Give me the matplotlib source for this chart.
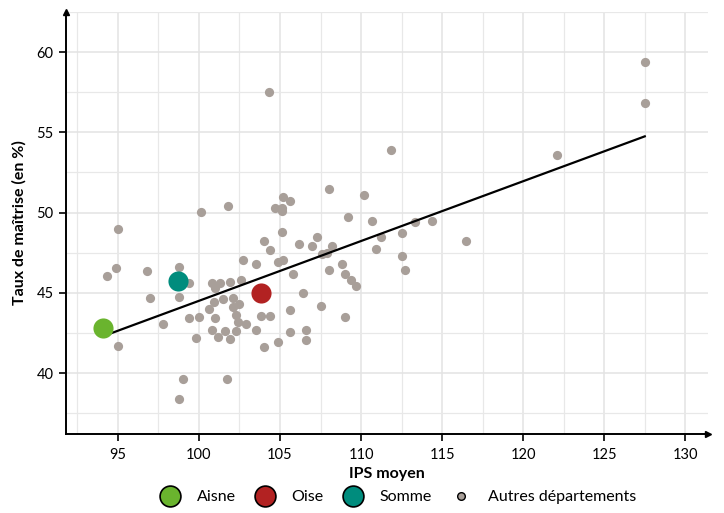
"""
plot.py
-------
Taux de maîtrise vs IPS moyen par département (Aisne, Oise, Somme en couleur).
"""

import matplotlib
matplotlib.use("Agg")
import matplotlib.pyplot as plt
from matplotlib.lines import Line2D


# ── Data ──────────────────────────────────────────────────────────────
# autres départements : IPS moyen / taux de maîtrise
autres_ips = [
    104.3, 127.5, 127.5, 122.1, 111.85, 108.0, 110.2, 101.8, 100.1,
    104.7, 105.1, 105.1, 105.2, 105.6,
    109.2, 110.7, 113.3, 114.4, 116.5, 111.2, 112.5, 112.5, 112.7, 110.9,
    105.1, 104.0, 104.4, 102.7, 103.5, 104.9, 105.2, 105.8, 106.2, 107.0,
    107.3, 108.2, 107.6, 107.9, 108.8, 108.0, 109.0, 109.4, 109.7, 106.4,
    107.5, 105.6, 103.8, 104.4, 109.0, 106.6, 105.6, 106.6, 104.9, 104.0,
    103.5, 102.9, 102.4, 102.3, 102.3, 101.9, 101.6, 101.2, 100.8, 101.0,
    100.6, 102.1, 102.5, 102.1, 101.5, 100.9, 100.8, 101.3, 101.0, 101.9,
    102.6, 100.0, 99.4, 99.8, 99.4, 98.8, 97.8, 97.0, 96.8, 94.9, 94.3,
    95.0, 95.0, 99.0, 98.8, 98.8, 101.7,
]
autres_taux = [
    57.5, 59.4, 56.8, 53.6, 53.9, 51.5, 51.1, 50.4, 50.05,
    50.3, 50.3, 50.1, 51.0, 50.7,
    49.7, 49.5, 49.4, 49.5, 48.2, 48.45, 48.7, 47.3, 46.45, 47.7,
    48.8, 48.25, 47.65, 47.05, 46.8, 46.9, 47.05, 46.2, 48.05, 47.9,
    48.5, 47.9, 47.4, 47.5, 46.8, 46.4, 46.2, 45.8, 45.4, 45.0,
    44.2, 43.9, 43.55, 43.55, 43.5, 42.7, 42.55, 42.05, 41.95, 41.6,
    42.7, 43.05, 43.2, 43.6, 42.6, 42.15, 42.6, 42.25, 42.7, 43.45,
    44.0, 44.1, 44.3, 44.7, 44.6, 44.45, 45.6, 45.6, 45.3, 45.7,
    45.8, 43.5, 43.45, 42.2, 45.6, 44.75, 43.05, 44.7, 46.35, 46.55, 46.05,
    49.0, 41.7, 39.65, 38.4, 46.6, 39.6,
]

# départements mis en avant
dept_noms = ["Aisne", "Oise", "Somme"]
dept_ips = [94.1, 103.8, 98.7]
dept_taux = [42.8, 45.0, 45.75]
dept_couleurs = ["#6AB42E", "#B22222", "#008C7D"]

# droite de régression (extrémités)
reg_ips = [94.1, 127.5]
reg_taux = [42.3, 54.75]

x_ticks = [95, 100, 105, 110, 115, 120, 125, 130]
y_ticks = [40, 45, 50, 55, 60]

GRIS = "#A89F99"


# ── Plot ──────────────────────────────────────────────────────────────
plt.rcParams["font.family"] = ["Lato", "DejaVu Sans"]

fig = plt.figure(figsize=(7.24, 5.13), dpi=100)
ax = fig.add_axes([66 / 724, 79 / 513, 642 / 724, 422 / 513])

ax.scatter(autres_ips, autres_taux, s=44, color=GRIS, linewidths=0, zorder=2)
ax.plot(reg_ips, reg_taux, color="black", linewidth=1.6, zorder=3)
for nom, xi, yi, c in zip(dept_noms, dept_ips, dept_taux, dept_couleurs):
    ax.scatter([xi], [yi], s=210, color=c, linewidths=0, zorder=4)

ax.set_xlim(91.8, 131.4)
ax.set_ylim(36.2, 62.5)
ax.set_xticks(x_ticks)
ax.set_yticks(y_ticks)
ax.set_xticks([92.5 + 5 * i for i in range(8)], minor=True)
ax.set_yticks([37.5, 42.5, 47.5, 52.5, 57.5, 62.5], minor=True)
ax.tick_params(which="major", length=5, width=1.2, labelsize=10.5,
               colors="black", pad=4)
ax.tick_params(axis="x", which="major", pad=5)
ax.tick_params(which="minor", length=0)
ax.grid(which="major", color="#E3E3E3", linewidth=1.1, zorder=0)
ax.grid(which="minor", color="#E8E8E8", linewidth=0.9, zorder=0)
ax.set_axisbelow(True)

for s in ["top", "right"]:
    ax.spines[s].set_visible(False)
for s in ["left", "bottom"]:
    ax.spines[s].set_linewidth(1.4)

# flèches au bout des axes
ax.plot(0, 1, marker="^", color="black", markersize=5,
        transform=ax.transAxes, clip_on=False, zorder=5)
ax.plot(1, 0, marker=">", color="black", markersize=5,
        transform=ax.transAxes, clip_on=False, zorder=5)

ax.set_xlabel("IPS moyen", fontsize=11.5, fontweight="bold", labelpad=4)
ax.set_ylabel("Taux de maîtrise (en %)", fontsize=11.5, fontweight="bold",
              labelpad=7)

handles = [
    Line2D([], [], linestyle="none", marker="o", markersize=15,
           markerfacecolor=c, markeredgecolor="black", markeredgewidth=1.2)
    for c in dept_couleurs
]
handles.append(Line2D([], [], linestyle="none", marker="o", markersize=5.5,
                      markerfacecolor=GRIS, markeredgecolor="black",
                      markeredgewidth=1.0))
labels = dept_noms + ["Autres départements"]
fig.legend(handles, labels, loc="center", bbox_to_anchor=(397 / 724, 1 - 497 / 513),
           ncol=4, frameon=False, fontsize=11.5, handletextpad=0.9,
           columnspacing=1.1, handlelength=1.5)

plt.savefig("out.png", dpi=100)
